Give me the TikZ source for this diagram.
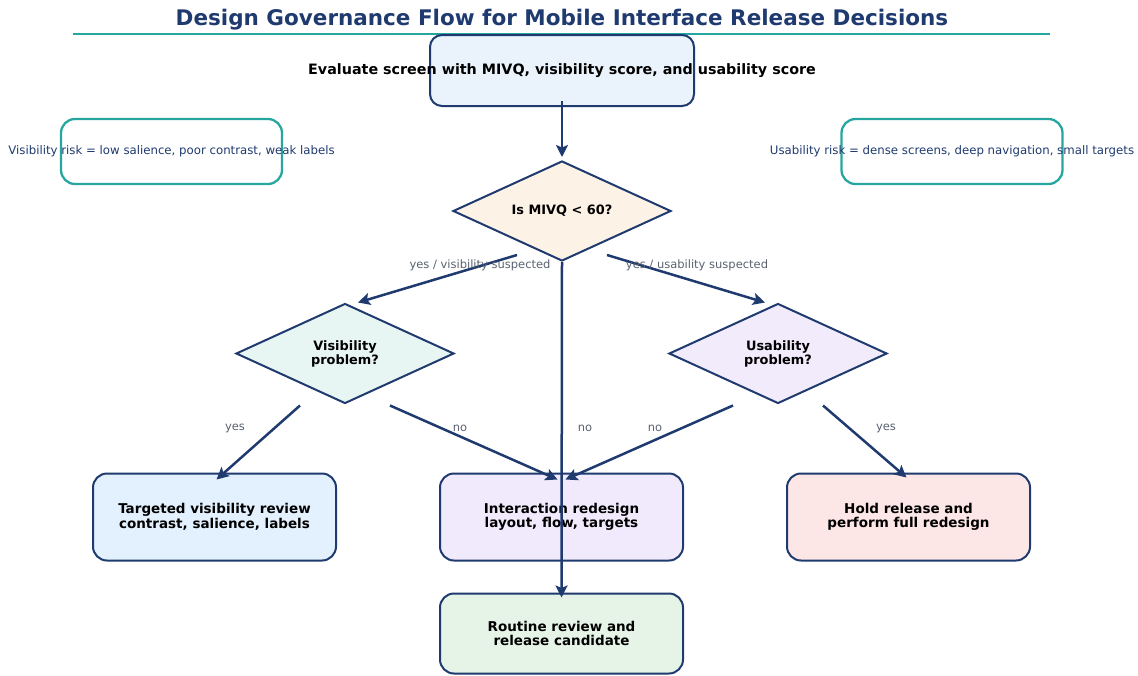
\documentclass[tikz,border=0pt]{standalone}
\usepackage{fontspec}
\setmainfont{DejaVu Sans}
\usepackage{xcolor}
\usetikzlibrary{arrows.meta,shapes.geometric}
\definecolor{navy}{HTML}{1F3A6F}
\definecolor{teal}{HTML}{27A6A0}
\definecolor{lblgray}{HTML}{5A6270}
\definecolor{evalfill}{HTML}{EAF2FB}
\definecolor{mivqfill}{HTML}{FDF2E6}
\definecolor{visfill}{HTML}{E8F6F3}
\definecolor{usefill}{HTML}{F2EBFB}
\definecolor{targfill}{HTML}{E3F0FD}
\definecolor{interfill}{HTML}{F1EAFC}
\definecolor{holdfill}{HTML}{FDE6E6}
\definecolor{routfill}{HTML}{E5F4E6}

\tikzset{
    flowbox/.style={draw=navy, line width=2pt, rounded corners=14pt, minimum width=243pt,
        minimum height=87pt, inner sep=0pt, align=center, font=\bfseries\fontsize{13.5}{14.5}\selectfont},
    note/.style={draw=teal, line width=2.3pt, rounded corners=14pt, fill=white, minimum width=221pt,
        minimum height=65pt, inner sep=0pt, text=navy, font=\fontsize{11.75}{13}\selectfont},
    decide/.style={diamond, aspect=2.18, draw=navy, line width=2pt, minimum width=218pt,
        minimum height=100pt, inner sep=0pt, align=center, font=\bfseries\fontsize{12.9}{14}\selectfont},
    lbl/.style={text=lblgray, font=\fontsize{11.5}{13}\selectfont},
    flow/.style={draw=navy, line width=2.5pt, -{Stealth[length=12pt, width=12pt, inset=2.5pt]}}
}

\begin{document}
\begin{tikzpicture}[x=1pt, y=-1pt]
    \useasboundingbox (0,0) rectangle (1138,675);

    \node[text=navy, font=\bfseries\fontsize{21.5}{24}\selectfont] (title) at (562,20) {Design Governance Flow for Mobile Interface Release Decisions};
    \draw[teal, line width=2.7pt] (73,34) -- (1050,34);

    \node[flowbox, fill=evalfill, minimum width=264pt, minimum height=71pt, rounded corners=12pt] (eval) at (562,70.5) {\makebox[0pt]{\fontsize{14.3}{16}\selectfont Evaluate screen with MIVQ, visibility score, and usability score}};
    \node[note] (visnote) at (171.5,151.5) {\makebox[0pt]{Visibility risk = low salience, poor contrast, weak labels}};
    \node[note] (usenote) at (952,151.5) {\makebox[0pt]{Usability risk = dense screens, deep navigation, small targets}};

    \node[decide, fill=mivqfill] (mivq) at (562,211) {Is MIVQ < 60?};
    \node[decide, fill=visfill] (visq) at (345,353.5) {Visibility\\problem?};
    \node[decide, fill=usefill] (useq) at (778,353.5) {Usability\\problem?};

    \node[flowbox, fill=targfill] (targ) at (214.5,517) {Targeted visibility review\\contrast, salience, labels};
    \node[flowbox, fill=interfill] (inter) at (561.5,517) {Interaction redesign\\layout, flow, targets};
    \node[flowbox, fill=holdfill] (hold) at (908.5,517) {Hold release and\\perform full redesign};
    \node[flowbox, fill=routfill, minimum height=80pt] (rout) at (561.5,633.5) {Routine review and\\release candidate};

    \path[flow] ([yshift=6pt]eval.south) -- ([yshift=3pt]mivq.north);
    \path[flow] ([shift={(-45,44)}]mivq.center) -- ([xshift=13pt]visq.north);
    \path[flow] ([shift={(45,44)}]mivq.center) -- ([xshift=-13pt]useq.north);
    \path[flow] (mivq.south) -- ([yshift=-5pt]rout.north);
    \path[flow] ([shift={(-45,1)}]visq.south) -- ([shift={(2,7)}]targ.north);
    \path[flow] ([shift={(45,1)}]visq.south) -- ([shift={(-4,7)}]inter.north);
    \path[flow] ([shift={(-45,1)}]useq.south) -- ([shift={(4,7)}]inter.north);
    \path[flow] ([shift={(45,1)}]useq.south) -- ([shift={(-2,5)}]hold.north);

    \node[lbl] (lvis) at (480,265.5) {yes / visibility suspected};
    \node[lbl] (luse) at (697,265.5) {yes / usability suspected};
    \node[lbl] (lvyes) at (235,428.5) {yes};
    \node[lbl] (lvno) at (460,428.5) {no};
    \node[lbl] (lmno) at (585,428.5) {no};
    \node[lbl] (luno) at (655,428.5) {no};
    \node[lbl] (luyes) at (886,428.5) {yes};
\end{tikzpicture}
\end{document}
